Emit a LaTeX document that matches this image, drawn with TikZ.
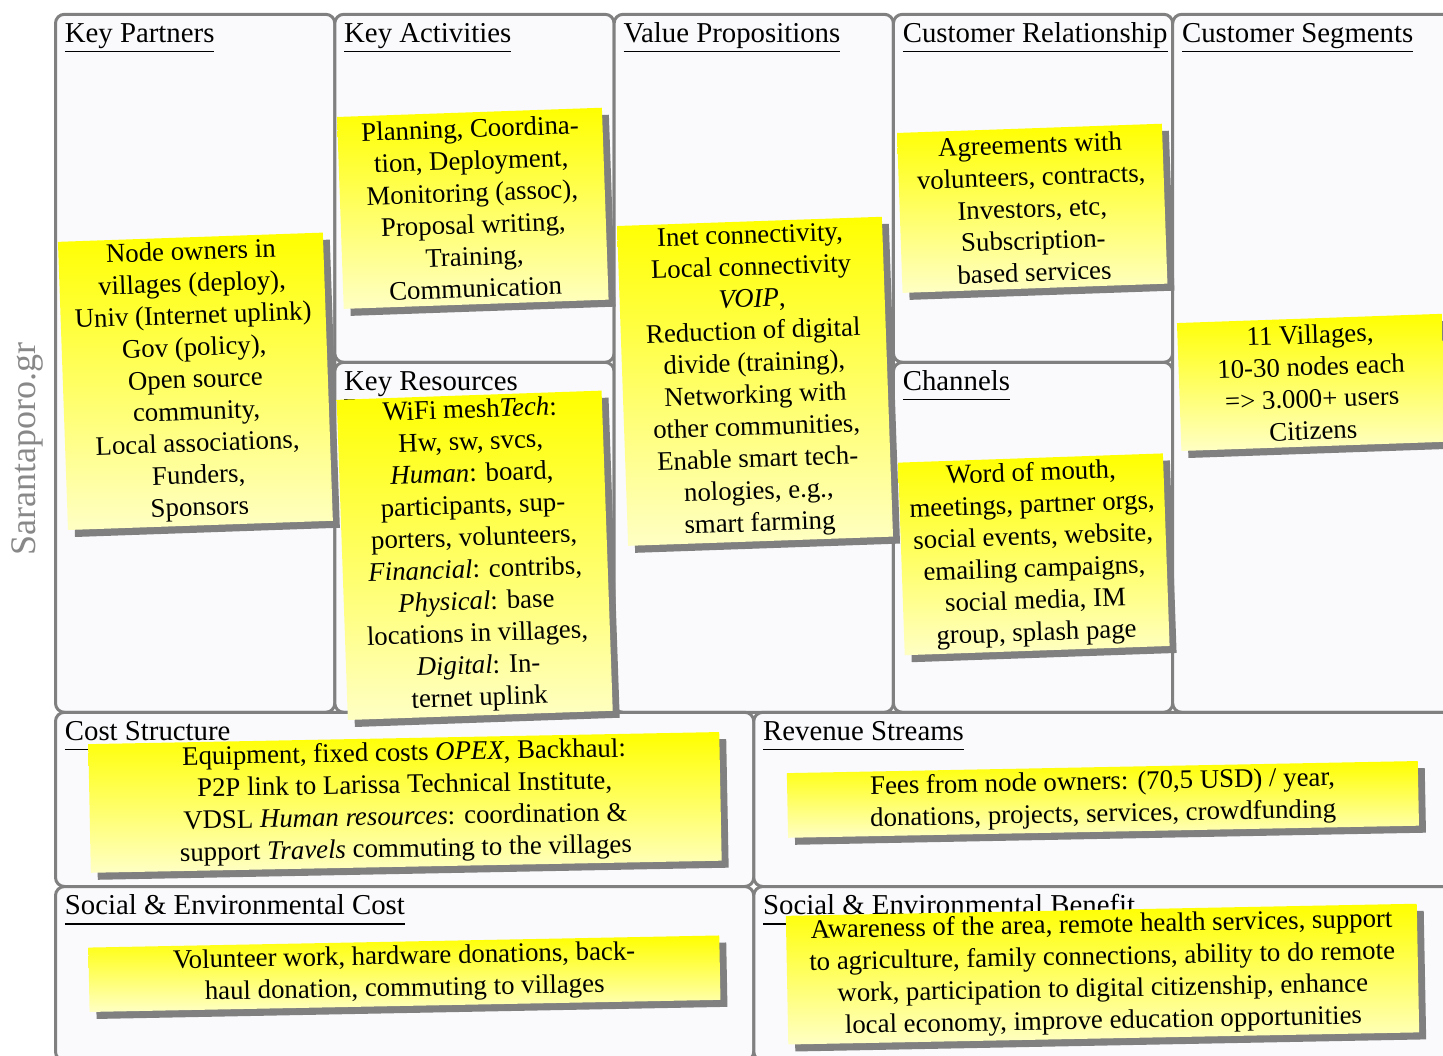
\documentclass[tikz,border=0pt]{standalone}
\usepackage{fontspec}
\setmainfont{Liberation Serif}
\usetikzlibrary{shadows}
\definecolor{panelfill}{RGB}{250,250,252}
\definecolor{panelline}{RGB}{128,128,128}
\definecolor{notebot}{RGB}{255,255,196}
\definecolor{sitegray}{RGB}{136,136,136}
\newcommand{\ttlul}[1]{\setbox0\hbox{#1}\vtop{\copy0\kern-\dp0\kern4.2pt\hrule height 0.8pt width\wd0}}
\begin{document}
\begin{tikzpicture}[x=0.5pt,y=-0.5pt,
  panel/.style={draw=panelline, line width=1.5pt, fill=panelfill, rounded corners=4.5pt,
    anchor=north west, inner sep=0pt, outer sep=0pt, minimum width=139.65pt},
  title/.style={anchor=base west, inner sep=0pt, xshift=4.5pt, yshift=-14pt,
    font=\fontsize{14.4}{17}\selectfont},
  note/.style={align=center, inner sep=2pt, top color=yellow, bottom color=notebot,
    draw=none, drop shadow={shadow xshift=3.5pt, shadow yshift=-3.5pt, fill=black!50, opacity=1},
    font=\fontsize{13.4}{16}\selectfont},
  narrow/.style={note, minimum width=132.5pt, rotate=2},
  wide/.style={note, minimum width=315.5pt, rotate=1.1}]
\useasboundingbox (0,0) rectangle (1443,1055);
\clip (0,0) rectangle (1443,1055);

% panels
\node[panel, minimum height=349pt] (kp) at (55.5,14.3) {};
\node[panel, minimum height=174pt] (ka) at (334.8,14.3) {};
\node[panel, minimum height=175pt] (kr) at (334.8,362.3) {};
\node[panel, minimum height=349pt] (vp) at (614.1,14.3) {};
\node[panel, minimum height=174pt] (cr) at (893.4,14.3) {};
\node[panel, minimum height=175pt] (ch) at (893.4,362.3) {};
\node[panel, minimum height=349pt] (cs) at (1172.7,14.3) {};
\node[panel, minimum width=349.125pt, minimum height=87.1pt] (cost) at (55.5,712.3) {};
\node[panel, minimum width=349.125pt, minimum height=87.1pt] (rev) at (753.75,712.3) {};
\node[panel, minimum width=349.125pt, minimum height=87.1pt] (sec) at (55.5,886.5) {};
\node[panel, minimum width=349.125pt, minimum height=87.1pt] (seb) at (753.75,886.5) {};

% titles
\node[title] (tkp) at (kp.north west) {\ttlul{Key Partners}};
\node[title] (tka) at (ka.north west) {\ttlul{Key Activities}};
\node[title] (tkr) at (kr.north west) {\ttlul{Key Resources}};
\node[title] (tvp) at (vp.north west) {\ttlul{Value Propositions}};
\node[title] (tcr) at (cr.north west) {\ttlul{Customer Relationship}};
\node[title] (tch) at (ch.north west) {\ttlul{Channels}};
\node[title] (tcs) at (cs.north west) {\ttlul{Customer Segments}};
\node[title] (tcost) at (cost.north west) {\ttlul{Cost Structure}};
\node[title] (trev) at (rev.north west) {\ttlul{Revenue Streams}};
\node[title] (tsec) at (sec.north west) {\ttlul{Social \& Environmental Cost}};
\node[title] (tseb) at (seb.north west) {\ttlul{Social \& Environmental Benefit}};

% side label
\node[rotate=90, text=sitegray, inner sep=0pt, font=\fontsize{18}{20}\selectfont] (site) at (27,449) {Sarantaporo.gr};

% sticky notes
\node[narrow, minimum height=144pt] (nkp) at (195.4,381.3) {Node owners in\\villages (deploy),\\Univ (Internet uplink)\\Gov (policy),\\Open source\\community,\\Local associations,\\Funders,\\Sponsors};
\node[narrow, minimum height=96pt] (nka) at (472.8,208.3) {Planning, Coordina-\\tion, Deployment,\\Monitoring (assoc),\\Proposal writing,\\Training,\\Communication};
\node[narrow, minimum height=160pt] (nkr) at (474.7,555.3) {WiFi mesh\textit{Tech}:\\Hw, sw, svcs,\\\textit{Human}: board,\\participants, sup-\\porters, volunteers,\\\textit{Financial}: contribs,\\\textit{Physical}: base\\locations in villages,\\\textit{Digital}: In-\\ternet uplink};
\node[narrow, minimum height=160pt] (nvp) at (755,381.3) {Inet connectivity,\\Local connectivity\\\textit{VOIP},\\Reduction of digital\\divide (training),\\Networking with\\other communities,\\Enable smart tech-\\nologies, e.g.,\\smart farming};
\node[narrow, minimum height=80pt] (ncr) at (1032.2,208.3) {Agreements with\\volunteers, contracts,\\Investors, etc,\\Subscription-\\based services};
\node[narrow, minimum height=96pt] (nch) at (1033.8,554.3) {Word of mouth,\\meetings, partner orgs,\\social events, website,\\emailing campaigns,\\social media, IM\\group, splash page};
\node[narrow, minimum height=64pt] (ncs) at (1311.6,382.4) {11 Villages,\\10-30 nodes each\\=> 3.000+ users\\Citizens};
\node[wide, minimum height=64pt] (ncost) at (405,802.4) {Equipment, fixed costs \textit{OPEX}, Backhaul:\\P2P link to Larissa Technical Institute,\\VDSL \textit{Human resources}: coordination \&\\support \textit{Travels} commuting to the villages};
\node[wide, minimum height=32pt] (nrev) at (1102.9,799.4) {Fees from node owners: (70,5 USD) / year,\\donations, projects, services, crowdfunding};
\node[wide, minimum height=32pt] (nsec) at (404.4,973.7) {Volunteer work, hardware donations, back-\\haul donation, commuting to villages};
\node[wide, minimum height=64pt] (nseb) at (1102.5,974.1) {Awareness of the area, remote health services, support\\to agriculture, family connections, ability to do remote\\work, participation to digital citizenship, enhance\\local economy, improve education opportunities};
\end{tikzpicture}
\end{document}
